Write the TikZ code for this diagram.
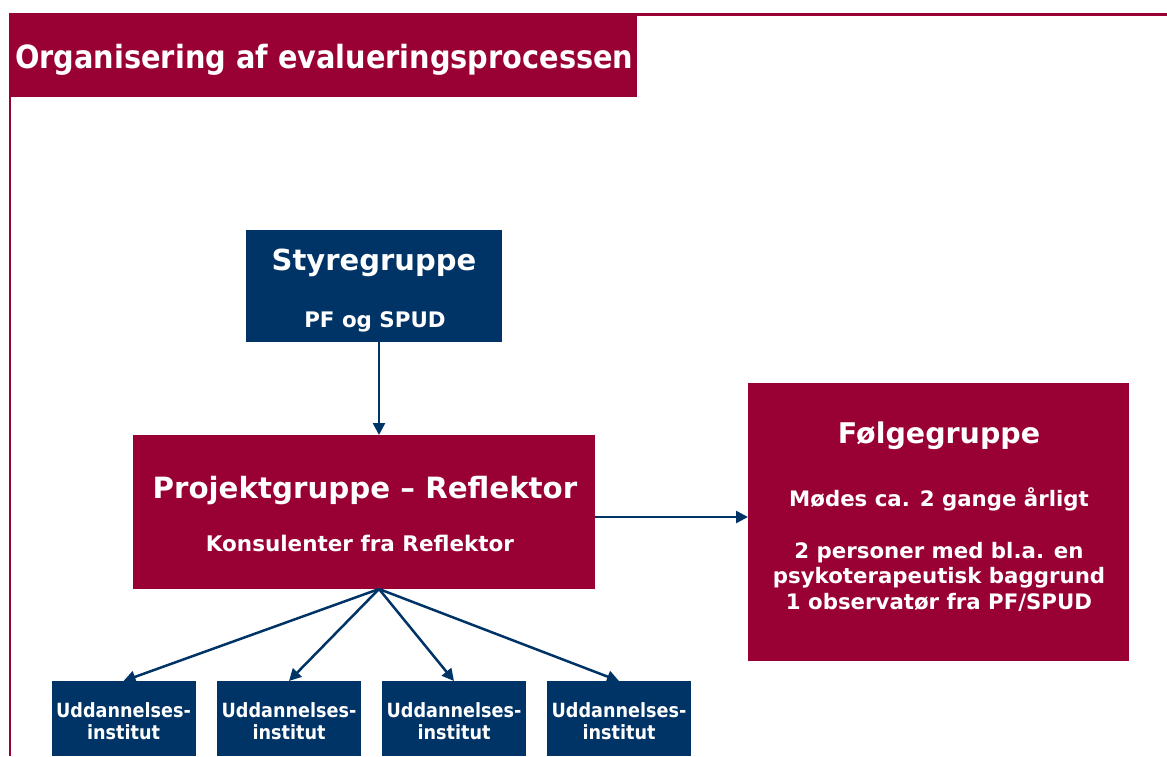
\documentclass[tikz,border=0pt]{standalone}
\usepackage{fontspec}
\setmainfont{DejaVu Sans}
\newfontfamily\condfont{DejaVu Sans Condensed}
\usepackage{xcolor}
\usetikzlibrary{arrows.meta}
\definecolor{crimson}{HTML}{990033}
\definecolor{navy}{HTML}{003366}
\tikzset{navybox/.style={fill=navy,inner sep=0pt,outer sep=0pt}}
\tikzset{redbox/.style={fill=crimson,inner sep=0pt,outer sep=0pt}}
\tikzset{boxtext/.style={text=white,inner sep=0pt,anchor=base}}
\tikzset{link/.style={-{Triangle[length=12pt,width=12pt]},navy,line width=2.5pt}}
\newcommand{\fsz}[1]{\bfseries\fontsize{#1}{#1}\selectfont}

\begin{document}
\begin{tikzpicture}[x=1pt,y=-1pt]
            \useasboundingbox (0,0) rectangle (1167,756);
            % draw the frame and the title
            \draw[crimson,line width=3pt] (9,14) -- (1167,14);
            \draw[crimson,line width=2pt] (10,14) -- (10,756);
            \node[redbox,anchor=north west,minimum width=627pt,minimum height=83pt] (titlebox) at (10,14) {};
            \node[boxtext,anchor=base west,font=\condfont\fsz{32}] (title) at (15,68) {Organisering af evalueringsprocessen};

            % draw the boxes
            \node[navybox,minimum width=256pt,minimum height=112pt] (styre) at (374,286) {};
            \node[boxtext,font=\fsz{29}] (styretitle) at (374,270) {Styregruppe};
            \node[boxtext,font=\fsz{21.4}] (styresub) at (375,327) {PF og SPUD};

            \node[redbox,minimum width=462pt,minimum height=154pt] (projekt) at (364,512) {};
            \node[boxtext,font=\fsz{29.3}] (projekttitle) at (365,498) {Projektgruppe -- Reflektor};
            \node[boxtext,font=\fsz{21.5}] (projektsub) at (360,551) {Konsulenter fra Reflektor};

            \node[redbox,minimum width=381pt,minimum height=278pt] (folge) at (938.5,522) {};
            \node[boxtext,font=\fsz{28.5}] (folgetitle) at (939,443) {Følgegruppe};
            \node[boxtext,font=\fsz{21.3}] (folgea) at (939,506) {Mødes ca. 2 gange årligt};
            \node[boxtext,font=\fsz{21.3}] (folgeb) at (939,558) {2 personer med bl.a. en};
            \node[boxtext,font=\fsz{21.3}] (folgec) at (939,583) {psykoterapeutisk baggrund};
            \node[boxtext,font=\fsz{21.3}] (folged) at (939,609) {1 observatør fra PF/SPUD};

            \foreach \i/\cx in {1/123.5,2/289,3/454,4/619} {
                \node[navybox,minimum width=144pt,minimum height=75pt] (inst\i) at (\cx,718.5) {};
                \node[boxtext,font=\condfont\fsz{19.6}] (insta\i) at (\cx,717) {Uddannelses-};
                \node[boxtext,font=\condfont\fsz{19.6}] (instb\i) at (\cx,739) {institut};
            }

            % draw the arrows
            \coordinate (hub) at (379,589);
            \coordinate (tie) at (670,517);
            \draw[link] (hub |- styre.south) -- (hub |- projekt.north);
            \draw[link] (projekt.east |- tie) -- (folge.west |- tie);
            \foreach \i in {1,...,4}
                \draw[link] (hub) -- (inst\i.north);
        \end{tikzpicture}
\end{document}
